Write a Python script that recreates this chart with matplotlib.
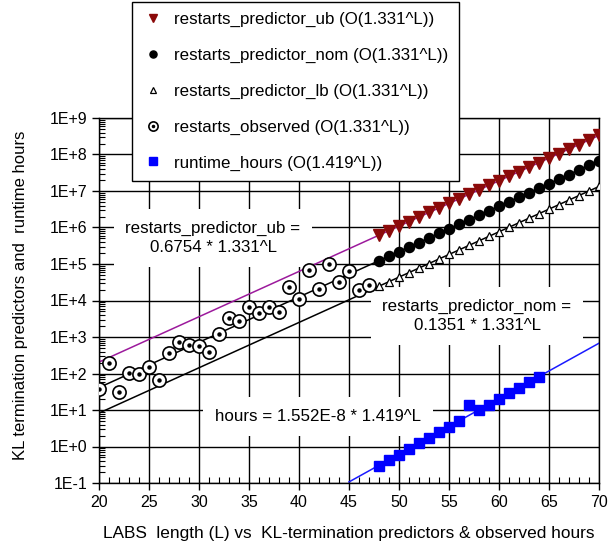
import numpy as np
import matplotlib.pyplot as plt
from matplotlib.ticker import FixedLocator, FuncFormatter, MultipleLocator

plt.rcParams['font.family'] = ['Liberation Sans', 'DejaVu Sans']

# observed restarts, L = 20..47
obs_L = np.arange(20, 48)
obs_restarts = [37, 190, 31, 105, 95, 151, 66, 372, 743, 604, 566, 395, 1208, 3250,
                2690, 6520, 4460, 6760, 4750, 23000, 11000, 68500, 20600, 98200,
                32700, 65500, 19400, 26100]

# predictors, L = 48..70
pred_L = np.arange(48, 71)
pred_ub = [6.166e5, 8.207e5, 1.092e6, 1.454e6, 1.936e6, 2.577e6, 3.429e6, 4.564e6,
           6.075e6, 8.086e6, 1.076e7, 1.432e7, 1.907e7, 2.538e7, 3.378e7, 4.496e7,
           5.984e7, 7.964e7, 1.060e8, 1.411e8, 1.878e8, 2.499e8, 3.327e8]
pred_nom = [1.233e5, 1.641e5, 2.185e5, 2.909e5, 3.871e5, 5.153e5, 6.859e5, 9.129e5,
            1.215e6, 1.617e6, 2.152e6, 2.865e6, 3.813e6, 5.075e6, 6.755e6, 8.991e6,
            1.197e7, 1.593e7, 2.120e7, 2.822e7, 3.756e7, 4.999e7, 6.653e7]
pred_lb = [2.466e4, 3.283e4, 4.370e4, 5.817e4, 7.743e4, 1.031e5, 1.372e5, 1.826e5,
           2.430e5, 3.234e5, 4.305e5, 5.730e5, 7.626e5, 1.015e6, 1.351e6, 1.798e6,
           2.393e6, 3.186e6, 4.240e6, 5.644e6, 7.511e6, 9.998e6, 1.331e7]

# runtime hours, L = 48..64
hrs_L = np.arange(48, 65)
hrs = [0.298, 0.427, 0.596, 0.871, 1.27, 1.74, 2.49, 3.49, 5.09, 13.7, 10.0, 13.7,
       20.0, 28.6, 40.8, 57.4, 81.6]

# fitted lines (end points)
fit_L = [20, 70]
fit_ub = [205.7, 3.327e8]
fit_nom = [41.1, 6.653e7]
fit_lb = [8.23, 1.331e7]
fit_hrs_L = [45, 70]
fit_hrs = [0.107, 676]

fig = plt.figure(figsize=(6.08, 5.5), dpi=100)
ax = fig.add_axes([99/608, 1-483/550, 500/608, 365/550])
ax.set_yscale('log')

ax.plot(fit_L, fit_ub, color='#9c1a9c', lw=1.1, zorder=2)
ax.plot(fit_L, fit_nom, color='black', lw=1.1, zorder=2)
ax.plot(fit_L, fit_lb, color='black', lw=1.1, zorder=2)
ax.plot(fit_hrs_L, fit_hrs, color='#1a1aff', lw=1.1, zorder=2)

ub_h, = ax.plot(pred_L, pred_ub, 'v', color='#8b0a0a', ms=8.5, ls='none', zorder=3)
nom_h, = ax.plot(pred_L, pred_nom, 'o', color='black', ms=7.3, ls='none', zorder=3)
lb_h, = ax.plot(pred_L, pred_lb, '^', mfc='white', mec='black', mew=0.9, ms=6,
                ls='none', zorder=3)
obs_h, = ax.plot(obs_L, obs_restarts, 'o', mfc='white', mec='black', mew=1.2, ms=9.5,
                 ls='none', zorder=3)
dot_h, = ax.plot(obs_L, obs_restarts, 'o', color='black', ms=2.2, ls='none', zorder=4)
hrs_h, = ax.plot(hrs_L, hrs, 's', color='#0000ff', ms=7.8, ls='none', zorder=3)

ax.set_xlim(20, 70)
ax.set_ylim(0.1, 1e9)
ax.xaxis.set_major_locator(MultipleLocator(5))
ax.xaxis.set_minor_locator(MultipleLocator(1))
ax.yaxis.set_major_locator(FixedLocator([10.0**k for k in range(-1, 10)]))
ax.yaxis.set_minor_locator(FixedLocator([m * 10.0**k for k in range(-1, 9) for m in range(2, 10)]))
ax.yaxis.set_major_formatter(FuncFormatter(lambda v, p: '1E%+d' % round(np.log10(v))))
ax.yaxis.set_minor_formatter(FuncFormatter(lambda v, p: ''))
ax.tick_params(which='major', direction='out', length=5, width=1, labelsize=11.5, colors='black')
ax.tick_params(which='minor', direction='in', length=4, width=0.8)
ax.grid(True, which='major', color='black', lw=1, zorder=0.5)
ax.set_axisbelow(True)
for s in ax.spines.values():
    s.set_linewidth(1)

ax.set_xlabel('LABS  length (L) vs  KL-termination predictors & observed hours',
              fontsize=12.4, labelpad=12)
ax.set_ylabel('KL termination predictors and  runtime hours', fontsize=12, labelpad=8)
ax.yaxis.set_label_coords(-0.142, 0.515)

box = dict(boxstyle='square,pad=0.7', fc='white', ec='none')
ax.text(31.4, 5.15e5, 'restarts_predictor_ub =\n0.6754 * 1.331^L', fontsize=12.2,
        ha='center', va='center', linespacing=1.35, bbox=box, zorder=1)
ax.text(57.8, 3760, 'restarts_predictor_nom =\n0.1351 * 1.331^L', fontsize=12.2,
        ha='center', va='center', linespacing=1.35, bbox=box, zorder=1)
ax.text(41.9, 6.55, 'hours = 1.552E-8 * 1.419^L', fontsize=12.2,
        ha='center', va='center', bbox=box, zorder=1)

leg = fig.legend([ub_h, nom_h, lb_h, (obs_h, dot_h), hrs_h],
                 ['restarts_predictor_ub (O(1.331^L))',
                  'restarts_predictor_nom (O(1.331^L))',
                  'restarts_predictor_lb (O(1.331^L))',
                  'restarts_observed (O(1.331^L))',
                  'runtime_hours (O(1.419^L))'],
                 loc='upper left', bbox_to_anchor=(132/608, 1-2/550), fontsize=12.2,
                 markerscale=0.7, handlelength=1.3, handletextpad=0.6,
                 labelspacing=1.22, borderpad=0.6, borderaxespad=0, fancybox=False,
                 framealpha=1, edgecolor='black')
leg.get_frame().set_linewidth(1)

plt.savefig('out.png')
